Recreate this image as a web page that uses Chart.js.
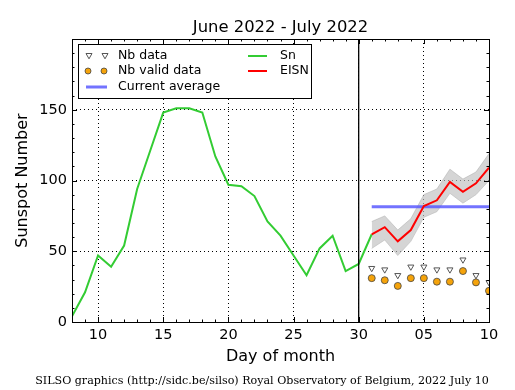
<!DOCTYPE html>
<html>
<head>
<meta charset="utf-8">
<script src="https://cdn.jsdelivr.net/npm/chart.js@4/dist/chart.umd.min.js"></script>
<style>
  html, body { margin: 0; padding: 0; background: #fff; }
  #wrap { width: 515px; height: 390px; }
</style>
</head>
<body>
<div id="wrap"><canvas id="silso" width="515" height="390"></canvas></div>
<script>
/* SILSO daily sunspot number, June 8 - July 10 2022 (days past June 30 run on as 31..40) */

const snDays = [8, 9, 10, 11, 12, 13, 14, 15, 16, 17, 18, 19, 20, 21, 22, 23, 24, 25, 26, 27, 28, 29, 30, 31];
const snValues = [4, 21, 47, 39, 54, 94, 121, 148, 151, 151, 148, 117, 97, 96, 89, 71, 61, 47, 33, 52, 61, 36, 41, 62];

const eisnDays = [31, 32, 33, 34, 35, 36, 37, 38, 39, 40];
const eisnValues = [62, 67, 57, 65, 82, 86, 99, 92, 98, 109];
const eisnUpper = [71, 75, 65, 73, 90, 94, 108, 101, 106, 119];
const eisnLower = [52, 58, 47, 57, 74, 78, 91, 84, 90, 100];

const nbData = [38, 37, 33, 39, 39, 37, 37, 44, 33, 28];
const nbValid = [31, 29.5, 25.5, 31, 31, 28.5, 28.5, 36, 28, 22];

const avgDays = [31, 40];
const avgValue = 81.5;
const monthBreak = 30;

const xTicks = [10, 15, 20, 25, 30, 35, 40];
const xTickLabels = ['10', '15', '20', '25', '30', '05', '10'];
const yTicks = [0, 50, 100, 150, 200];
const yTickLabels = ['0', '50', '100', '150', ''];

const pts = (xs, ys) => xs.map((x, i) => ({ x, y: ys[i] }));

const decor = {
  id: 'decor',
  afterDatasetsDraw(chart) {
    const { ctx, chartArea: a, scales: { x, y } } = chart;
    ctx.save();

    // inner ticks, all four sides
    ctx.strokeStyle = '#000';
    ctx.lineWidth = 1;
    ctx.beginPath();
    for (let d = 8; d <= 40; d++) {
      const px = Math.round(x.getPixelForValue(d)) + 0.5;
      const len = d % 5 === 0 ? 5 : 2.5;
      ctx.moveTo(px, a.bottom); ctx.lineTo(px, a.bottom - len);
      ctx.moveTo(px, a.top); ctx.lineTo(px, a.top + len);
    }
    for (let v = 0; v <= 200; v += 10) {
      const py = Math.round(y.getPixelForValue(v)) + 0.5;
      const len = v % 50 === 0 ? 5 : 2.5;
      ctx.moveTo(a.left, py); ctx.lineTo(a.left + len, py);
      ctx.moveTo(a.right, py); ctx.lineTo(a.right - len, py);
    }
    ctx.stroke();
    ctx.strokeRect(Math.round(a.left) + 0.5, Math.round(a.top) + 0.5,
      Math.round(a.right - a.left), Math.round(a.bottom - a.top));

    // legend box
    const bx = 78.5, by = 44.5, bw = 233, bh = 54;
    ctx.fillStyle = '#fff';
    ctx.fillRect(bx, by, bw, bh);
    ctx.strokeRect(bx, by, bw, bh);
    ctx.font = '12.5px "DejaVu Sans"';
    ctx.textBaseline = 'middle';
    ctx.fillStyle = '#000';
    const rows = [56, 71, 87];

    const tri = (cx, cy) => {
      ctx.beginPath();
      ctx.moveTo(cx - 3, cy - 2.5); ctx.lineTo(cx + 3, cy - 2.5); ctx.lineTo(cx, cy + 2.8);
      ctx.closePath();
      ctx.fillStyle = '#fff'; ctx.fill();
      ctx.strokeStyle = '#555'; ctx.lineWidth = 1; ctx.stroke();
    };
    const dot = (cx, cy) => {
      ctx.beginPath();
      ctx.arc(cx, cy, 3, 0, Math.PI * 2);
      ctx.fillStyle = '#f5a30a'; ctx.fill();
      ctx.strokeStyle = '#444'; ctx.lineWidth = 0.8; ctx.stroke();
    };
    const seg = (x0, x1, yy, color, w) => {
      ctx.beginPath(); ctx.moveTo(x0, yy); ctx.lineTo(x1, yy);
      ctx.strokeStyle = color; ctx.lineWidth = w; ctx.stroke();
    };

    tri(89, rows[0]); tri(105, rows[0]);
    dot(88, rows[1]); dot(104, rows[1]);
    seg(86, 107, rows[2], 'rgba(90,90,255,0.85)', 3);
    seg(248, 267, rows[0], '#33cc33', 2);
    seg(248, 267, rows[1], '#ff0000', 2);

    ctx.fillStyle = '#000';
    ctx.fillText('Nb data', 118, rows[0]);
    ctx.fillText('Nb valid data', 118, rows[1]);
    ctx.fillText('Current average', 118, rows[2]);
    ctx.fillText('Sn', 280, rows[0]);
    ctx.fillText('EISN', 280, rows[1]);

    // title and footer
    ctx.textAlign = 'center';
    ctx.textBaseline = 'alphabetic';
    ctx.font = '16.4px "DejaVu Sans"';
    ctx.fillText('June 2022 - July 2022', (a.left + a.right) / 2, 32);
    ctx.font = '11.1px "DejaVu Serif"';
    ctx.fillText('SILSO graphics (http://sidc.be/silso) Royal Observatory of Belgium, 2022 July 10', 262, 384);
    ctx.restore();
  }
};

new Chart(document.getElementById('silso'), {
  type: 'line',
  data: {
    datasets: [
      {
        data: pts(eisnDays, eisnLower),
        borderColor: 'rgba(170,170,170,0.5)', borderWidth: 1,
        pointRadius: 0, fill: false, order: 8
      },
      {
        data: pts(eisnDays, eisnUpper),
        borderColor: 'rgba(170,170,170,0.5)', borderWidth: 1,
        backgroundColor: 'rgba(190,190,190,0.65)',
        pointRadius: 0, fill: '-1', order: 7
      },
      {
        data: pts(snDays, snValues),
        borderColor: '#33cc33', borderWidth: 2, pointRadius: 0, order: 6
      },
      {
        data: pts(avgDays, [avgValue, avgValue]),
        borderColor: 'rgba(90,90,255,0.85)', borderWidth: 3, pointRadius: 0, order: 5
      },
      {
        data: pts(eisnDays, eisnValues),
        borderColor: '#ff0000', borderWidth: 2, pointRadius: 0, order: 4
      },
      {
        data: pts(eisnDays, nbData),
        showLine: false, pointStyle: 'triangle', rotation: 180, pointRadius: 3.5,
        backgroundColor: '#fff', borderColor: '#555', borderWidth: 1, order: 3
      },
      {
        data: pts(eisnDays, nbValid),
        showLine: false, pointStyle: 'circle', pointRadius: 3.5,
        backgroundColor: '#f5a30a', borderColor: '#444', borderWidth: 0.8, order: 2
      },
      {
        data: pts([monthBreak, monthBreak], [0, 200]),
        borderColor: '#000', borderWidth: 1.3, pointRadius: 0, order: 1
      }
    ]
  },
  options: {
    responsive: false,
    animation: false,
    devicePixelRatio: 1,
    layout: { padding: { top: 39, right: 26, left: 0, bottom: 0 } },
    plugins: { legend: { display: false }, tooltip: { enabled: false }, title: { display: false } },
    scales: {
      x: {
        type: 'linear', min: 8, max: 40,
        afterBuildTicks: s => { s.ticks = xTicks.map(v => ({ value: v })); },
        afterFit: s => { s.height = 68; },
        ticks: {
          autoSkip: false, maxRotation: 0, padding: 5, color: '#000',
          font: { family: 'DejaVu Sans', size: 14.5 },
          callback: (v, i) => xTickLabels[i]
        },
        grid: { color: '#000', lineWidth: 1, drawTicks: false },
        border: { display: false, dash: [1, 3] },
        title: {
          display: true, text: 'Day of month', color: '#000',
          font: { family: 'DejaVu Sans', size: 16 }, padding: { top: 0, bottom: 24 }
        }
      },
      y: {
        type: 'linear', min: 0, max: 200,
        afterBuildTicks: s => { s.ticks = yTicks.map(v => ({ value: v })); },
        afterFit: s => { s.width = 72; },
        ticks: {
          padding: 5, color: '#000',
          font: { family: 'DejaVu Sans', size: 14.5 },
          callback: (v, i) => yTickLabels[i]
        },
        grid: { color: '#000', lineWidth: 1, drawTicks: false },
        border: { display: false, dash: [1, 3] },
        title: {
          display: true, text: 'Sunspot Number', color: '#000',
          font: { family: 'DejaVu Sans', size: 16 }, padding: { top: 13, bottom: 0 }
        }
      }
    }
  },
  plugins: [decor]
});
</script>
</body>
</html>
